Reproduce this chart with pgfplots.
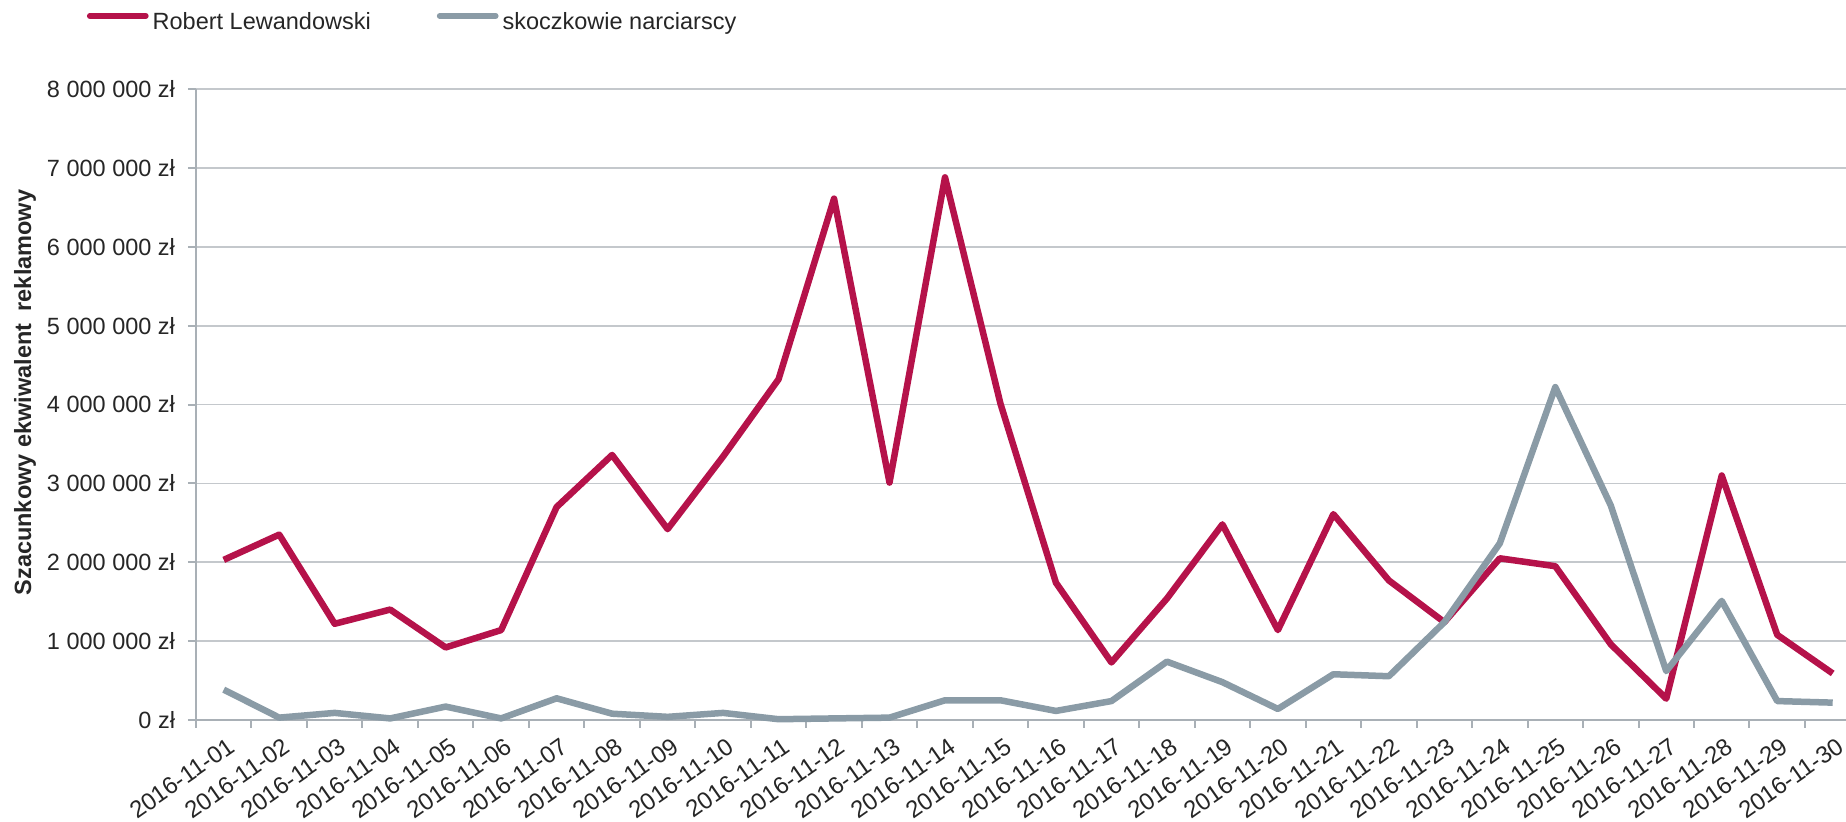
\documentclass[border=0pt]{standalone}
\usepackage{fontspec}
\setmainfont{Liberation Sans}
\usepackage{pgfplots}
\usepackage{pgfplotstable}
\pgfplotsset{compat=1.18}
\definecolor{lew}{HTML}{B5124A}
\definecolor{sko}{HTML}{8A9BA6}
\definecolor{gridc}{HTML}{C4C8CC}
\definecolor{axc}{HTML}{A9B0B6}
\definecolor{txt}{HTML}{262626}

\pgfplotstableread{
day lew sko
1 2030000 385000
2 2350000 30000
3 1220000 90000
4 1400000 20000
5 920000 170000
6 1140000 20000
7 2700000 275000
8 3360000 80000
9 2420000 40000
10 3340000 90000
11 4320000 10000
12 6610000 20000
13 3010000 30000
14 6880000 250000
15 4010000 250000
16 1740000 115000
17 730000 240000
18 1540000 740000
19 2480000 480000
20 1140000 140000
21 2610000 580000
22 1770000 555000
23 1240000 1240000
24 2050000 2240000
25 1950000 4220000
26 960000 2720000
27 270000 620000
28 3100000 1510000
29 1080000 240000
30 590000 220000
}\data

\begin{document}
\fontsize{9.4}{11.3}\selectfont
\begin{tikzpicture}
\useasboundingbox (-78.4pt,-40.8pt) rectangle (660pt,288pt);
\begin{axis}[
  at={(0,0)}, anchor=south west,
  scale only axis, width=660pt, height=252.4pt,
  xmin=0.5, xmax=30.24, ymin=0, ymax=8000000,
  clip=false,
  axis x line*=bottom, axis y line*=left,
  axis line style={draw=axc, line width=0.9pt, -},
  tick align=outside,
  major tick length=3.2pt,
  tick style={draw=axc, line width=0.8pt},
  ytick={0,1000000,2000000,3000000,4000000,5000000,6000000,7000000,8000000},
  yticklabels={0 zł,1 000 000 zł,2 000 000 zł,3 000 000 zł,4 000 000 zł,5 000 000 zł,6 000 000 zł,7 000 000 zł,8 000 000 zł},
  scaled y ticks=false,
  yticklabel style={anchor=east, inner sep=0pt, xshift=-5pt, text=txt},
  ymajorgrids,
  grid style={draw=gridc, line width=0.7pt},
  xtick={0.5,1.5,...,29.5},
  xticklabels={},
  extra x ticks={1,2,...,30},
  extra x tick labels={2016-11-01,2016-11-02,2016-11-03,2016-11-04,2016-11-05,2016-11-06,2016-11-07,2016-11-08,2016-11-09,2016-11-10,2016-11-11,2016-11-12,2016-11-13,2016-11-14,2016-11-15,2016-11-16,2016-11-17,2016-11-18,2016-11-19,2016-11-20,2016-11-21,2016-11-22,2016-11-23,2016-11-24,2016-11-25,2016-11-26,2016-11-27,2016-11-28,2016-11-29,2016-11-30},
  extra x tick style={major tick length=0pt, grid=none,
    xticklabel style={yshift=-6.4pt, xshift=1.2pt, rotate=35, anchor=north east, inner sep=0pt, text=txt, font=\fontsize{9.6}{11}\selectfont}},
  ylabel={\bfseries Szacunkowy ekwiwalent\hspace{0.25em} reklamowy},
  ylabel style={at={(axis description cs:-0.1036,0.519)}, anchor=center, text=txt},
  legend columns=2,
  legend style={at={(axis description cs:-0.0661,1.1046)}, anchor=west, draw=none, fill=none,
    inner sep=0pt, outer sep=0pt,
    /tikz/every odd column/.append style={column sep=1.6pt},
    /tikz/every even column/.append style={column sep=26.4pt},
    nodes={inner sep=0pt, text=txt}},
  legend image code/.code={\draw[#1, line width=2.3pt, line cap=round] (0pt,0.3em) -- (22.4pt,0.3em);},
]
\addplot[lew, line width=2.6pt, line join=round] table[x=day, y=lew] {\data};
\addlegendentry{Robert Lewandowski}
\addplot[sko, line width=2.6pt, line join=round] table[x=day, y=sko] {\data};
\addlegendentry{skoczkowie narciarscy}
\end{axis}
\end{tikzpicture}
\end{document}
